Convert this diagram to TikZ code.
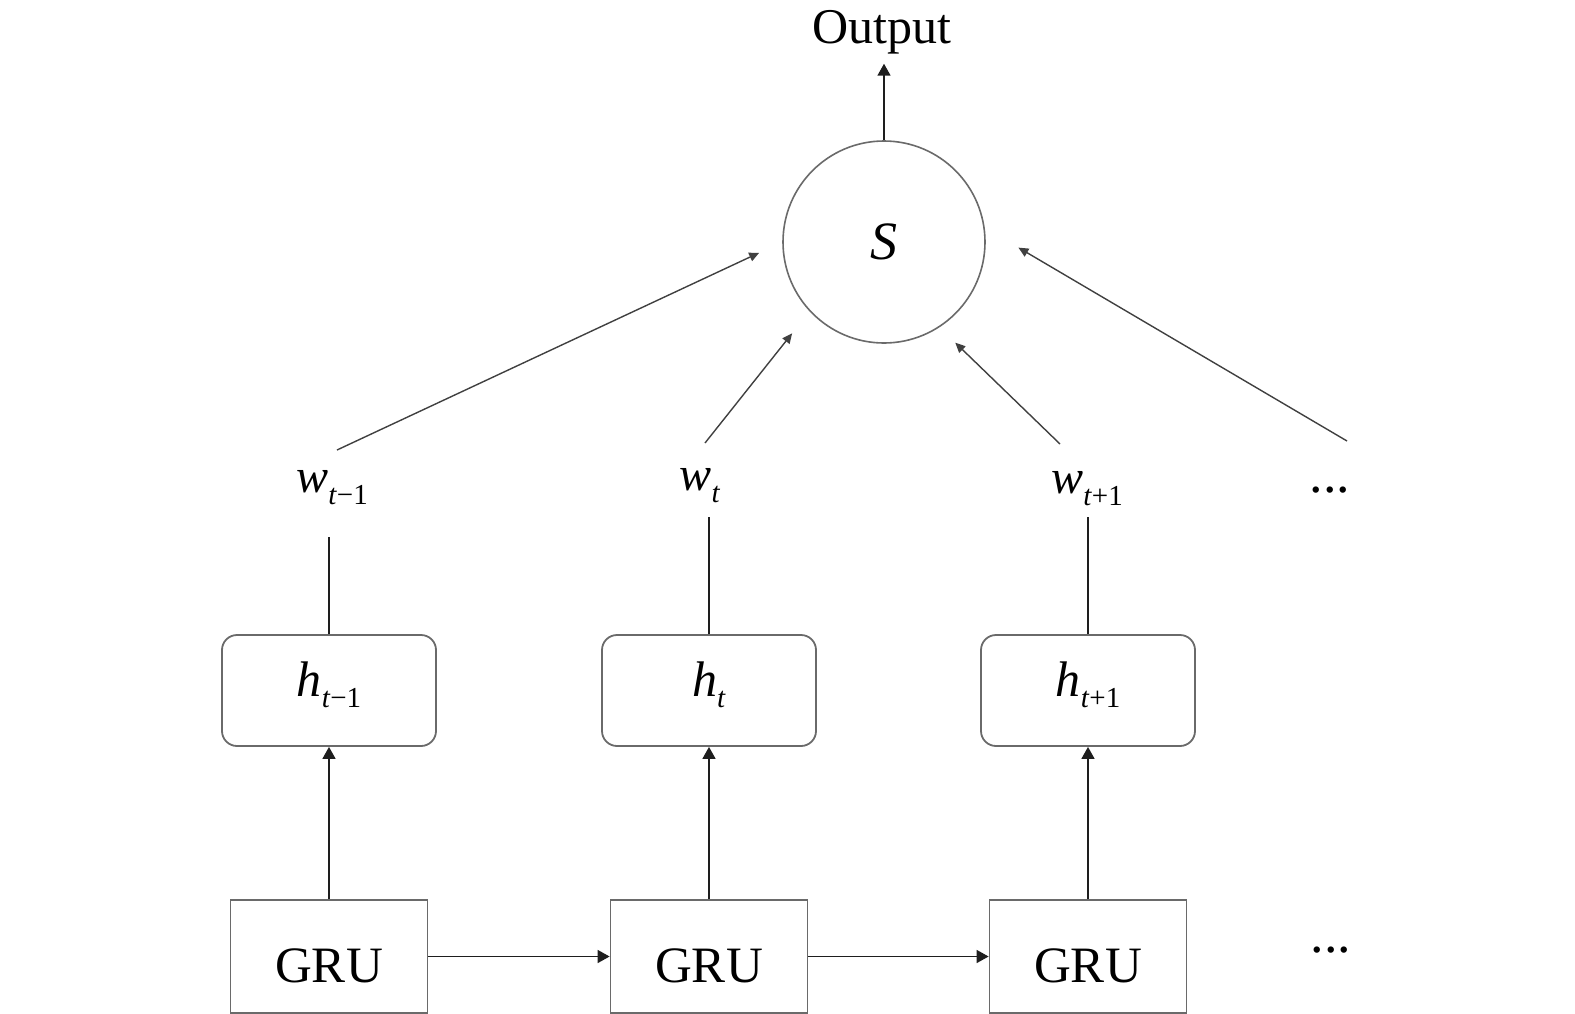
\documentclass[tikz,border=0pt]{standalone}
\usepackage{fontspec}
\setmainfont{Liberation Serif}
\usepackage{xcolor}
\usepackage{tikz}
\usetikzlibrary{arrows.meta}
\definecolor{ink}{HTML}{1E1E1E}
\definecolor{frame}{HTML}{6A6A6A}
\newcommand{\OutFont}{\fontsize{25}{30}\selectfont}
\newcommand{\GruFont}{\fontsize{25.5}{30}\selectfont}
\newcommand{\VarFont}{\fontsize{24}{28}\selectfont}
\newcommand{\HidFont}{\fontsize{25}{29}\selectfont}
\newcommand{\SumFont}{\fontsize{27}{32}\selectfont}
\newcommand{\DotFont}{\fontsize{27}{32}\selectfont}
\newcommand{\SubFont}{\fontsize{14.5}{17}\selectfont}
\newcommand{\lowsub}[2][6pt]{\raisebox{-#1}{\SubFont #2}}

\begin{document}
\begin{tikzpicture}[x=0.5pt,y=-0.5pt,
    gru/.style={draw=frame,line width=0.9pt,minimum width=98.5pt,minimum height=56.5pt,inner sep=0pt,text height=25.5pt,text depth=0pt,font=\GruFont},
    hid/.style={draw=frame,line width=0.9pt,rounded corners=7.5pt,minimum width=107pt,minimum height=55.5pt,inner sep=0pt,text height=12pt,text depth=6pt,font=\HidFont},
    word/.style={anchor=base,font=\VarFont,inner sep=3.33pt},
    link/.style={ink,line width=0.8pt},
    flow/.style={link,-{Triangle[length=6pt,width=6.5pt]}},
    pull/.style={ink!85,line width=0.7pt,-{Triangle[length=5pt,width=4.5pt]}}]
  \useasboundingbox (0,0) rectangle (1575,1013);
  \node[circle,draw=frame,line width=0.8pt,minimum size=101pt,inner sep=0pt,font=\SumFont] (s) at (884,242) {\textit{S}};
  \node[anchor=base,font=\OutFont] (out) at (882,43) {Output};
  \draw[flow,shorten >=1.5pt] (s.north) -- (s.north |- out.south);
  \foreach \n/\x/\idx in {1/329/\textit{t}−1,2/709/\textit{t},3/1088/\textit{t}+1}{
    \node[gru] (g\n) at (\x,956.5) {GRU};
    \node[hid] (h\n) at (\x,690.5) {\textit{h}\lowsub[5.5pt]{\idx}};
    \draw[flow] (g\n) -- (h\n);
  }
  \draw[flow] (g1) -- (g2);
  \draw[flow] (g2) -- (g3);
  \node[word] (w1) at (332,492) {\textit{w}\lowsub{\textit{t}−1}};
  \node[word] (w2) at (700,490) {\textit{w}\lowsub{\textit{t}}};
  \node[word] (w3) at (1087,493) {\textit{w}\lowsub{\textit{t}+1}};
  \node[anchor=base,font=\DotFont] (wd) at (1330,492) {...};
  \node[anchor=base,font=\DotFont] (gd) at (1331,952) {...};
  \draw[link,shorten >=13pt] (h1.north) -- (h1.north |- w1.south);
  \draw[link,shorten >=4pt] (h2.north) -- (h2.north |- w2.south);
  \draw[link,shorten >=2.5pt] (h3.north) -- (h3.north |- w3.south);
  \coordinate (p1) at (337,450);
  \coordinate (p2) at (705,443);
  \coordinate (p3) at (1060,444);
  \coordinate (p4) at (1347,441);
  \draw[pull,shorten >=12.7pt] (p1) -- (s.180);
  \draw[pull,shorten >=14pt] (p2) -- (s.223);
  \draw[pull,shorten >=11pt] (p3) -- (s.303);
  \draw[pull,shorten >=19.5pt] (p4) -- (s.8);
\end{tikzpicture}
\end{document}
